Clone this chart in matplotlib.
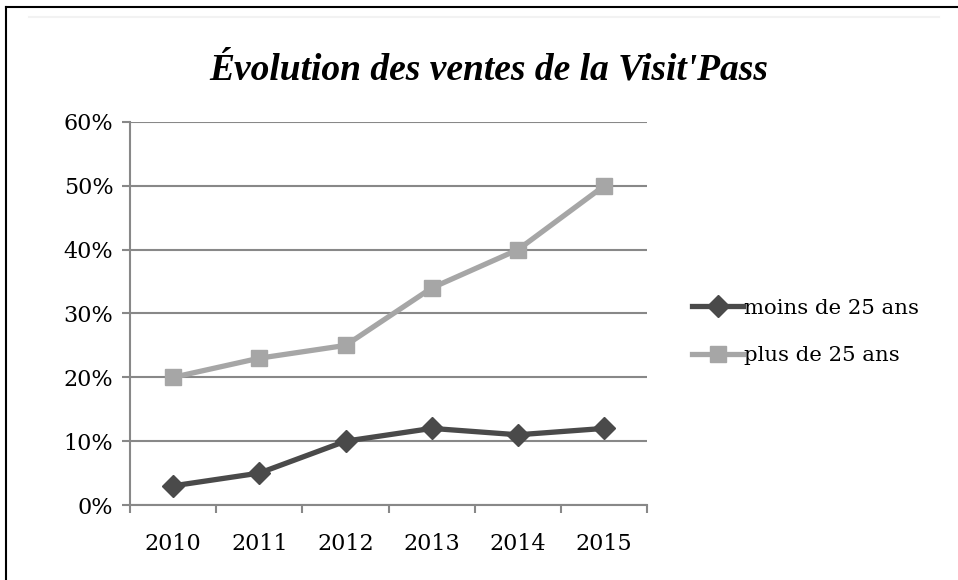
import numpy as np
import matplotlib.pyplot as plt
from matplotlib.lines import Line2D

# data
annees = ['2010', '2011', '2012', '2013', '2014', '2015']
moins_25 = [3, 5, 10, 12, 11, 12]
plus_25 = [20, 23, 25, 34, 40, 50]
yticks = [0, 10, 20, 30, 40, 50, 60]

fig = plt.figure(figsize=(9.58, 5.8), dpi=100)
ax = fig.add_axes([0.1357, 0.1293, 0.540, 0.6604])

x = np.arange(len(annees))
ax.plot(x, moins_25, color='#4a4a4a', lw=3.8, marker='D', ms=11,
        label='moins de 25 ans', zorder=3)
ax.plot(x, plus_25, color='#a6a6a6', lw=3.8, marker='s', ms=11,
        label='plus de 25 ans', zorder=3)

ax.set_xlim(-0.5, len(annees) - 0.5)
ax.set_ylim(0, 60)
ax.set_yticks(yticks)
ax.set_yticklabels([f'{v}%' for v in yticks], family='DejaVu Serif', fontsize=16)
ax.set_xticks(x)
ax.set_xticklabels(annees, family='DejaVu Serif', fontsize=16)
ax.set_xticks(np.arange(len(annees) + 1) - 0.5, minor=True)
ax.tick_params(axis='x', which='major', length=0, pad=20)
ax.tick_params(axis='x', which='minor', length=6, color='#888888', width=1.5)
ax.tick_params(axis='y', length=6, color='#888888', width=1.5, pad=6)

ax.yaxis.grid(True, color='#888888', lw=1.5)
ax.set_axisbelow(True)
for s in ['top', 'right']:
    ax.spines[s].set_visible(False)
for s in ['left', 'bottom']:
    ax.spines[s].set_color('#888888')
    ax.spines[s].set_linewidth(1.5)

leg = ax.legend(loc='center left', bbox_to_anchor=(1.05, 0.452), frameon=False,
                prop={'family': 'DejaVu Serif', 'size': 15.3}, handlelength=2.4,
                handletextpad=0.05, labelspacing=1.35)

fig.text(0.5105, 0.88, "Évolution des ventes de la Visit'Pass", ha='center', va='center',
         family='Liberation Serif', fontstyle='italic', fontweight='bold', fontsize=27)

# cadre gauche / haut
fig.add_artist(Line2D([0.0063, 0.0063], [0, 0.988], transform=fig.transFigure, color='black', lw=1.5))
fig.add_artist(Line2D([0.0063, 1], [0.988, 0.988], transform=fig.transFigure, color='black', lw=1.5))
fig.add_artist(Line2D([0.03, 0.98], [0.97, 0.97], transform=fig.transFigure, color='#f2f2f2', lw=1.5))

fig.savefig('out.png', dpi=100)
